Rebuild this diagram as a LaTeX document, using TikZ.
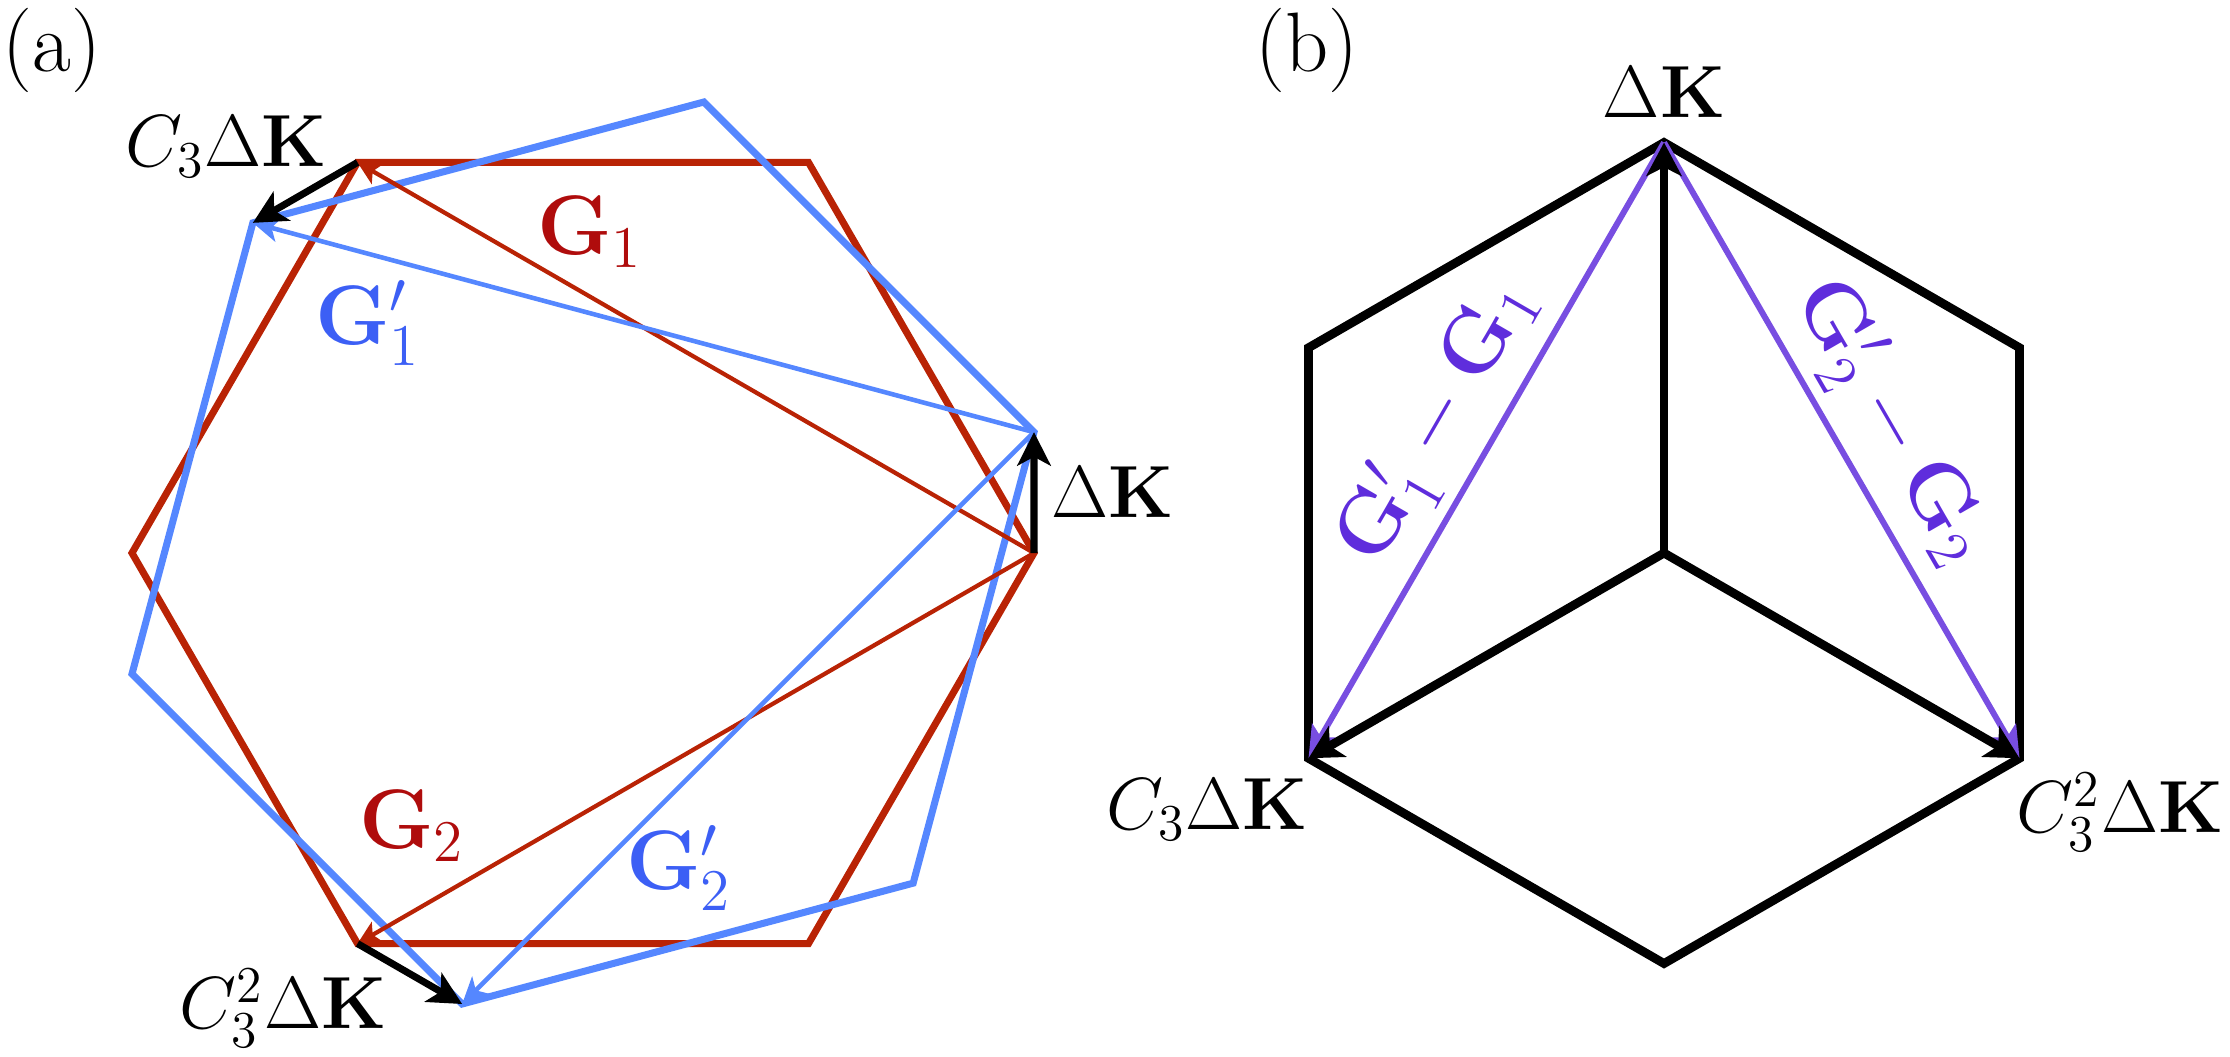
\documentclass[tikz,border=0pt]{standalone}
\usepackage{fix-cm}
\usepackage{amsmath}
\usepackage{xcolor}
\usepackage{tikz}
\usetikzlibrary{arrows.meta,calc}

\definecolor{hexred}{RGB}{185,35,5}
\definecolor{labred}{RGB}{175,12,12}
\definecolor{hexblue}{RGB}{85,135,255}
\definecolor{labblue}{RGB}{60,95,245}
\definecolor{arrpurple}{RGB}{120,78,225}
\definecolor{labpurple}{RGB}{95,45,220}

\begin{document}
\begin{tikzpicture}
        \tikzset{x={(0.01cm, 0cm)}, y={(0cm, 0.01cm)},
                redhex/.style={draw=hexred, line width=2pt},
                bluehex/.style={draw=hexblue, line width=2pt},
                redvec/.style={draw=hexred, line width=1.2pt, -{Stealth[length=6.5pt, width=6.5pt, inset=1.5pt]}},
                bluevec/.style={draw=hexblue, line width=1.3pt, -{Stealth[length=7.5pt, width=7pt, inset=2pt]}},
                kvec/.style={draw=black, line width=2pt, -{Stealth[length=9.5pt, width=9.5pt, inset=2.5pt]}},
                blackhex/.style={draw=black, line width=2.5pt},
                kvecb/.style={draw=black, line width=2.5pt, -{Stealth[length=9.5pt, width=10pt, inset=2.5pt]}},
                diffvec/.style={draw=arrpurple, line width=1.7pt, -{Stealth[length=9pt, width=8pt, inset=2pt]}},
                lab/.style={font=\fontsize{21}{25}\selectfont, inner sep=0pt},
                plab/.style={font=\fontsize{24}{28}\selectfont, inner sep=0pt},
                glab/.style={font=\fontsize{24}{28}\selectfont, inner sep=0pt},
                difflab/.style={font=\fontsize{24}{28}\selectfont, text=labpurple, inner sep=3pt}}
        \useasboundingbox (0,0) rectangle (2230,1056);

        \coordinate (oa) at (583,503);
        \coordinate (ob) at (1664,503);
        \foreach \i in {0,...,5} {
                \coordinate (ra\i) at ($(oa)+(60*\i:451)$);
                \coordinate (ba\i) at ($(oa)+(60*\i+15:466.9)$);
                \coordinate (hb\i) at ($(ob)+(60*\i+30:410.5)$);
        }

        \node[plab] (panela) at (52,1006) {(a)};
        \draw[redhex] (ra0) -- (ra1) -- (ra2) -- (ra3) -- (ra4) -- (ra5) -- cycle;
        \draw[bluehex] (ba0) -- (ba1) -- (ba2) -- (ba3) -- (ba4) -- (ba5) -- cycle;
        \draw[redvec] (ra0) -- (ra2);
        \draw[redvec] (ra0) -- (ra4);
        \draw[bluevec] (ba0) -- (ba2);
        \draw[bluevec] (ba0) -- (ba4);
        \draw[kvec] (ra0) -- (ba0);
        \draw[kvec] (ra2) -- (ba2);
        \draw[kvec] (ra4) -- (ba4);
        \node[glab, text=labred] (g1) at (590,824) {$\mathbf{G}_1$};
        \node[glab, text=labblue] (g1p) at (368,733) {$\mathbf{G}'_1$};
        \node[glab, text=labred] (g2) at (412,230) {$\mathbf{G}_2$};
        \node[glab, text=labblue] (g2p) at (679,188) {$\mathbf{G}'_2$};
        \node[lab] (dka) at (1113,564) {$\Delta\mathbf{K}$};
        \node[lab] (cdka) at (226,909) {$C_3\Delta\mathbf{K}$};
        \node[lab] (ccdka) at (283,48) {$C_3^2\Delta\mathbf{K}$};

        \node[plab] (panelb) at (1307,1006) {(b)};
        \draw[blackhex] (hb0) -- (hb1) -- (hb2) -- (hb3) -- (hb4) -- (hb5) -- cycle;
        \draw[diffvec] (hb1) -- (hb3) node[midway, sloped, above, difflab] {$\mathbf{G}'_1-\mathbf{G}_1$};
        \draw[diffvec] (hb1) -- (hb5) node[midway, sloped, above, difflab] {$\mathbf{G}'_2-\mathbf{G}_2$};
        \draw[kvecb] (ob) -- (hb1);
        \draw[kvecb] (ob) -- (hb3);
        \draw[kvecb] (ob) -- (hb5);
        \node[lab] (dkb) at (1664,964) {$\Delta\mathbf{K}$};
        \node[lab] (cdkb) at (1207,246) {$C_3\Delta\mathbf{K}$};
        \node[lab] (ccdkb) at (2120,244) {$C_3^2\Delta\mathbf{K}$};
\end{tikzpicture}
\end{document}
